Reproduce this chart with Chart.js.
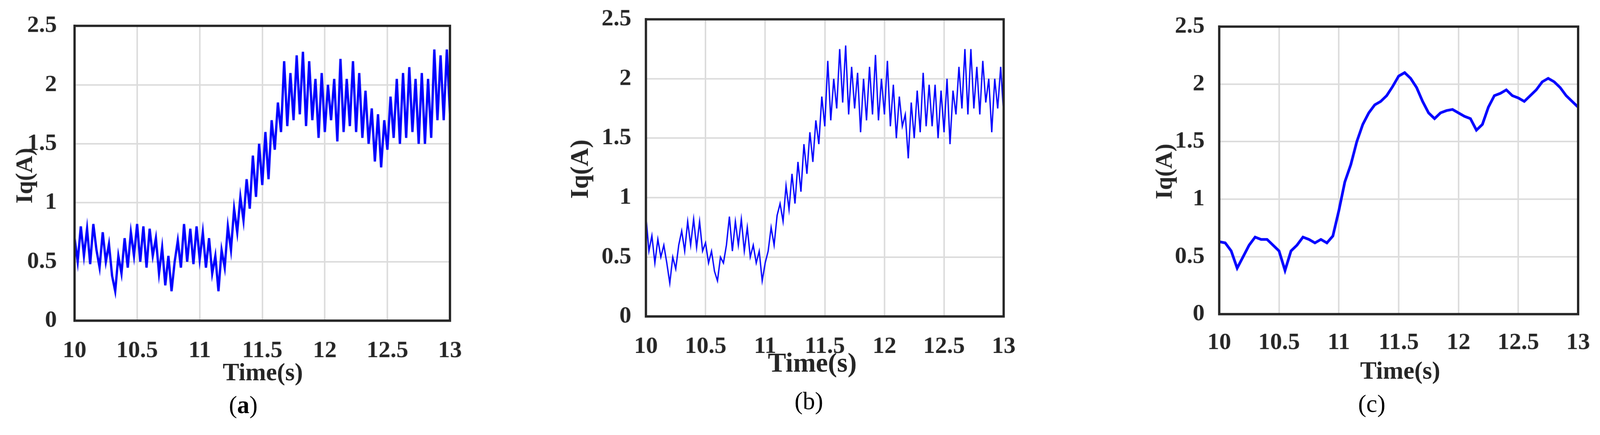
<!DOCTYPE html>
<html>
<head>
<meta charset="utf-8">
<script src="https://cdn.jsdelivr.net/npm/chart.js@4"></script>
<style>
html, body { margin:0; padding:0; background:#fff; overflow:hidden; }
#page { width:4164px; height:1113px; position:relative; overflow:hidden; transform-origin:0 0; }
.box { position:absolute; }
.lbl { position:absolute; font-family:"Liberation Serif", serif; font-weight:bold; color:#262626; transform:translate(-50%,-50%); white-space:nowrap; }
.cap { position:absolute; font-family:"Liberation Serif", serif; color:#000; transform:translate(-50%,-50%); }
</style>
</head>
<body>
<div id="page">
<div class="box" id="boxA"><canvas id="chartA"></canvas></div>
<div class="box" id="boxB"><canvas id="chartB"></canvas></div>
<div class="box" id="boxC"><canvas id="chartC"></canvas></div>

<div class="lbl" style="left:63px;top:457px;font-size:62px;transform:translate(-50%,-50%) rotate(-90deg)">Iq(A)</div>
<div class="lbl" style="left:1508px;top:440px;font-size:66px;transform:translate(-50%,-50%) rotate(-90deg)">Iq(A)</div>
<div class="lbl" style="left:3029px;top:446px;font-size:62px;transform:translate(-50%,-50%) rotate(-90deg)">Iq(A)</div>
<div class="lbl" style="left:684px;top:968px;font-size:64px">Time(s)</div>
<div class="lbl" style="left:2114px;top:943px;font-size:71px">Time(s)</div>
<div class="lbl" style="left:3644px;top:964px;font-size:64px">Time(s)</div>
<div class="cap" style="left:633px;top:1054px;font-size:64px">(<b>a</b>)</div>
<div class="cap" style="left:2105px;top:1043px;font-size:64px">(b)</div>
<div class="cap" style="left:3570px;top:1050px;font-size:64px">(c)</div>
</div>

<script>
// Iq(A) values, evenly spaced over 10 s .. 13 s
const iqA = [0.7,0.5,0.8,0.55,0.78,0.48,0.82,0.6,0.45,0.75,0.5,0.65,0.38,0.25,0.55,0.4,0.7,0.45,0.75,0.55,
  0.82,0.5,0.8,0.45,0.78,0.55,0.7,0.4,0.62,0.3,0.55,0.25,0.5,0.68,0.45,0.82,0.5,0.78,0.48,0.8,
  0.52,0.75,0.45,0.7,0.4,0.55,0.25,
  0.6,0.45,0.8,0.6,0.95,0.75,1.05,0.85,1.2,0.95,1.4,1.05,1.5,1.15,1.6,1.2,1.7,1.45,1.85,1.6,
  2.2,1.65,2.1,1.7,2.25,1.75,2.28,1.65,2.2,1.7,2.05,1.55,2.1,1.6,2.0,1.7,2.05,1.52,2.22,1.6,
  2.05,1.65,2.2,1.6,2.1,1.55,1.95,1.5,1.8,1.35,1.75,1.3,1.7,1.45,1.9,1.55,2.05,1.5,2.1,1.55,
  2.15,1.6,2.05,1.5,2.1,1.5,2.05,1.55,2.3,1.7,2.25,1.7,2.3,1.75];

const iqB = [0.85,0.55,0.68,0.45,0.65,0.5,0.6,0.45,0.28,0.5,0.4,0.6,0.72,0.55,0.8,0.6,0.82,0.58,0.8,0.55,
  0.62,0.45,0.55,0.38,0.3,0.5,0.45,0.6,0.84,0.55,0.8,0.6,0.82,0.55,0.75,0.5,0.6,0.45,0.55,0.3,0.45,
  0.55,0.75,0.6,0.85,0.95,0.8,1.1,0.9,1.2,0.95,1.3,1.05,1.45,1.2,1.55,1.3,1.65,1.45,1.85,1.6,
  2.15,1.65,2.0,1.75,2.25,1.8,2.28,1.7,2.1,1.75,2.05,1.55,2.0,1.65,2.1,1.7,2.2,1.65,2.0,1.7,
  2.15,1.6,1.95,1.5,1.85,1.6,1.7,1.33,1.8,1.5,1.9,1.55,2.05,1.6,1.95,1.6,1.95,1.5,1.9,1.55,
  2.0,1.45,1.9,1.7,2.1,1.75,2.25,1.7,2.25,1.75,2.1,1.7,2.15,1.8,2.0,1.55,2.0,1.75,2.1,1.7];

const iqC = [0.63,0.62,0.55,0.4,0.5,0.6,0.67,0.65,0.65,0.6,0.55,0.38,0.55,0.6,0.67,0.65,0.62,0.65,0.62,0.68,
  0.9,1.15,1.3,1.5,1.65,1.75,1.82,1.85,1.9,1.98,2.07,2.1,2.05,1.97,1.85,1.75,1.7,1.75,1.77,1.78,
  1.75,1.72,1.7,1.6,1.65,1.8,1.9,1.92,1.95,1.9,1.88,1.85,1.9,1.95,2.02,2.05,2.02,1.97,1.9,1.85,1.8];

const xTicks = [10, 10.5, 11, 11.5, 12, 12.5, 13];
const yTicks = [0, 0.5, 1, 1.5, 2, 2.5];

// fit the 4164 px page into whatever width the window really has
const fit = Math.min(1, window.innerWidth / 4164, window.innerHeight / 1113);
document.getElementById("page").style.transform = "scale(" + fit + ")";

function makeChart(id, boxId, values, lineWidth, area, fontSize, xPad, yPad) {
    const yW = 160, xH = 110;
    const box = document.getElementById(boxId);
    let bl = area.left - yW, bt = area.top - 40;
    let bw = area.right - area.left + yW + 50, bh = area.bottom - area.top + xH + 40;
    const place = () => {
        box.style.left = bl + "px"; box.style.top = bt + "px";
        box.style.width = bw + "px"; box.style.height = bh + "px";
    };
    place();

    const pts = values.map((v, i) => ({ x: 10 + 3 * i / (values.length - 1), y: v }));
    const font = { family: "Liberation Serif", weight: "bold", size: fontSize };
    const grid = { color: "#dcdcdc", lineWidth: 4, drawTicks: false };

    const chart = new Chart(document.getElementById(id), {
        type: "line",
        data: { datasets: [{ data: pts, borderColor: "#0000ff", borderWidth: lineWidth,
                             pointRadius: 0, tension: 0, fill: false }] },
        options: {
            responsive: false, maintainAspectRatio: false, animation: false,
            layout: { padding: 0 },
            plugins: { legend: { display: false }, tooltip: { enabled: false } },
            scales: {
                x: { type: "linear", min: 10, max: 13,
                     afterBuildTicks: s => { s.ticks = xTicks.map(v => ({ value: v })); },
                     afterFit: s => { s.height = xH; },
                     ticks: { font, color: "#262626", padding: xPad, maxRotation: 0, callback: v => String(v) },
                     grid, border: { color: "#262626", width: 6 } },
                y: { min: 0, max: 2.5,
                     afterBuildTicks: s => { s.ticks = yTicks.map(v => ({ value: v })); },
                     afterFit: s => { s.width = yW; },
                     ticks: { font, color: "#262626", padding: yPad, callback: v => String(v) },
                     grid, border: { color: "#262626", width: 6 } }
            }
        },
        plugins: [{
            id: "frame",
            afterDraw(c) {
                const a = c.chartArea, g = c.ctx;
                g.save();
                g.strokeStyle = "#262626"; g.lineWidth = 6;
                g.strokeRect(a.left, a.top, a.right - a.left, a.bottom - a.top);
                g.restore();
            }
        }]
    });
    chart.resize(bw, bh);

    // one correction so the plot area lands where the reference has it
    const a = chart.chartArea;
    const offL = a.left, offT = a.top, offR = bw - a.right, offB = bh - a.bottom;
    bl = area.left - offL; bt = area.top - offT;
    bw = area.right - area.left + offL + offR; bh = area.bottom - area.top + offT + offB;
    place();
    chart.resize(bw, bh);
    return chart;
}

makeChart("chartA", "boxA", iqA, 6, { left: 194, right: 1171, top: 67, bottom: 834 }, 62, 42, 46);
makeChart("chartB", "boxB", iqB, 3.5, { left: 1681, right: 2612, top: 50, bottom: 823 }, 62, 42, 38);
makeChart("chartC", "boxC", iqC, 7, { left: 3173, right: 4107, top: 69, bottom: 817 }, 62, 38, 38);
</script>
</body>
</html>
